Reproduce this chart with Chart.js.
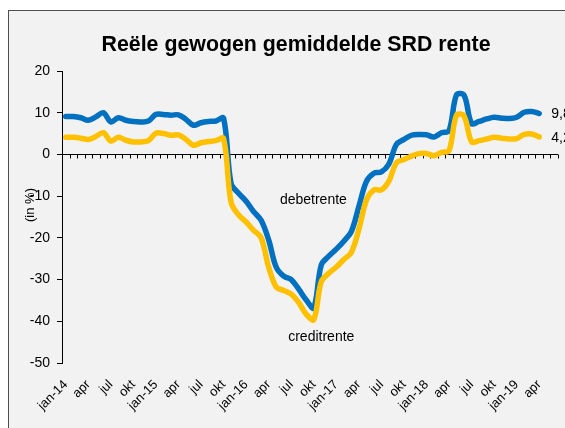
<!DOCTYPE html>
<html>
<head>
<meta charset="utf-8">
<script src="https://cdn.jsdelivr.net/npm/chart.js@4.4.1/dist/chart.umd.min.js"></script>
<style>
html,body{margin:0;padding:0;background:#ffffff;overflow:hidden;}
#wrap{width:565px;height:428px;position:relative;}
canvas{display:block;}
</style>
</head>
<body>
<div id="wrap"><canvas id="c" width="565" height="428"></canvas></div>
<script>
// ---- data ----
const chartTitle = 'Reële gewogen gemiddelde SRD rente';
const yAxisTitle = '(in %)';
const categories = [
  'jan-14','feb','mrt','apr','mei','jun','jul','aug','sep','okt','nov','dec',
  'jan-15','feb','mrt','apr','mei','jun','jul','aug','sep','okt','nov','dec',
  'jan-16','feb','mrt','apr','mei','jun','jul','aug','sep','okt','nov','dec',
  'jan-17','feb','mrt','apr','mei','jun','jul','aug','sep','okt','nov','dec',
  'jan-18','feb','mrt','apr','mei','jun','jul','aug','sep','okt','nov','dec',
  'jan-19','feb','mrt','apr','mei','jun'
];
const debetrente = [
  9.1, 9.1, 8.8, 8.2, 9.0, 10.0, 7.8, 8.8, 8.2, 7.9, 7.8, 8.0,
  9.6, 9.6, 9.4, 9.5, 8.4, 7.0, 7.6, 7.9, 8.0, 8.7, -7.0, -9.3,
  -11.2, -13.7, -15.8, -20.5, -27.0, -29.2, -30.0, -32.3, -34.9, -36.8, -26.5, -24.4,
  -22.7, -20.8, -18.5, -12.5, -6.5, -4.5, -4.2, -2.3, 2.4, 3.6, 4.6, 4.8,
  4.7, 4.2, 5.2, 5.7, 14.3, 14.2, 7.4, 7.9, 8.5, 8.9, 8.7, 8.6,
  8.9, 10.1, 10.3, 9.8
];
const creditrente = [
  4.1, 4.1, 3.9, 3.6, 4.3, 5.2, 3.2, 4.1, 3.4, 3.0, 3.0, 3.3,
  5.1, 5.0, 4.6, 4.7, 3.6, 2.2, 2.8, 3.1, 3.3, 3.8, -11.5, -14.5,
  -16.2, -18.2, -20.0, -27.0, -31.8, -32.6, -33.5, -35.5, -38.3, -39.6, -30.5, -28.5,
  -27.0, -25.2, -23.5, -18.0, -11.0, -8.5, -8.5, -6.4, -2.0, -1.2, -0.4, 0.2,
  0.2, -0.3, 0.5, 0.9, 9.4, 9.2, 3.0, 3.3, 3.7, 4.1, 3.9, 3.7,
  3.8, 4.8, 4.9, 4.2
];
const yMin = -50, yMax = 20, yStep = 10;
const labelEvery = 3;
const seriesNames = ['debetrente', 'creditrente'];

const FONT = "'Liberation Sans', Arial, Helvetica, sans-serif";
const BLUE = '#0070C0';
const YELLOW = '#FFC000';

const decorPlugin = {
  id: 'decor',
  beforeDraw(chart) {
    const ctx = chart.ctx;
    ctx.save();
    ctx.fillStyle = '#ffffff';
    ctx.fillRect(0, 0, chart.width, chart.height);
    ctx.fillStyle = '#f2f2f2';
    ctx.fillRect(8.5, 10.5, chart.width, chart.height);
    ctx.strokeStyle = '#4d4d4d';
    ctx.lineWidth = 1;
    ctx.strokeRect(8.5, 10.5, chart.width + 10, chart.height + 10);
    // title
    ctx.fillStyle = '#000';
    ctx.font = "bold 22px " + FONT;
    ctx.textBaseline = 'alphabetic';
    ctx.textAlign = 'center';
    const w = ctx.measureText(chartTitle).width;
    const target = 389;
    ctx.translate(296, 50.5);
    ctx.scale(target / w, 1);
    ctx.fillText(chartTitle, 0, 0);
    ctx.restore();
    // y axis title
    ctx.save();
    ctx.fillStyle = '#000';
    ctx.font = "13px " + FONT;
    ctx.textAlign = 'center';
    ctx.textBaseline = 'middle';
    ctx.translate(30, 205);
    ctx.rotate(-Math.PI / 2);
    ctx.fillText(yAxisTitle, 0, 0);
    ctx.restore();
  },
  beforeDatasetsDraw(chart) {
    const ctx = chart.ctx;
    const ys = chart.scales.y;
    const y0 = Math.round(ys.getPixelForValue(0)) + 0.5;
    const a = chart.chartArea;
    ctx.save();
    ctx.strokeStyle = '#000';
    ctx.lineWidth = 1;
    ctx.beginPath();
    ctx.moveTo(a.left - 5, y0);
    ctx.lineTo(a.right, y0);
    const n = categories.length;
    const cw = (a.right - a.left) / n;
    for (let i = 1; i <= n; i++) {
      const x = Math.round(a.left + i * cw) + 0.5;
      ctx.moveTo(x, y0);
      ctx.lineTo(x, y0 + 4);
    }
    ctx.stroke();
    ctx.restore();
  },
  afterDatasetsDraw(chart) {
    const ctx = chart.ctx;
    const xs = chart.scales.x, ys = chart.scales.y;
    ctx.save();
    ctx.fillStyle = '#000';
    ctx.font = "14px " + FONT;
    ctx.textBaseline = 'middle';
    ctx.textAlign = 'center';
    ctx.fillText(seriesNames[0], xs.getPixelForValue(32.95), ys.getPixelForValue(-10.9));
    ctx.fillText(seriesNames[1], xs.getPixelForValue(34.0), ys.getPixelForValue(-43.9));
    ctx.textAlign = 'left';
    const li = debetrente.length - 1;
    const fmt = v => v.toFixed(1).replace('.', ',');
    ctx.fillText(fmt(debetrente[li]), xs.getPixelForValue(li) + 12, ys.getPixelForValue(debetrente[li]) + 1);
    ctx.fillText(fmt(creditrente[li]), xs.getPixelForValue(li) + 12, ys.getPixelForValue(creditrente[li]) + 1);
    ctx.restore();
  }
};

new Chart(document.getElementById('c'), {
  type: 'line',
  data: {
    labels: categories,
    datasets: [
      { label: seriesNames[1], data: creditrente, borderColor: YELLOW, backgroundColor: YELLOW,
        borderWidth: 5.5, pointRadius: 0, tension: 0.35, fill: false,
        borderCapStyle: 'round', borderJoinStyle: 'round' },
      { label: seriesNames[0], data: debetrente, borderColor: BLUE, backgroundColor: BLUE,
        borderWidth: 5.5, pointRadius: 0, tension: 0.35, fill: false,
        borderCapStyle: 'round', borderJoinStyle: 'round' }
    ]
  },
  options: {
    responsive: false,
    animation: false,
    devicePixelRatio: 1,
    layout: { padding: { left: 0, right: 7, top: 71, bottom: 0 } },
    plugins: { legend: { display: false }, tooltip: { enabled: false }, title: { display: false } },
    scales: {
      x: {
        type: 'category',
        offset: true,
        grid: { display: false, drawTicks: false },
        border: { display: false },
        ticks: {
          autoSkip: false, maxRotation: 45, minRotation: 45, padding: 14,
          color: '#000', font: { family: FONT, size: 13 },
          callback: (v, i) => (i % labelEvery === 0 ? categories[i] : '')
        },
        afterFit: s => { s.height = 65; s.paddingLeft = 0; s.paddingRight = 0; }
      },
      y: {
        min: yMin, max: yMax,
        ticks: { stepSize: yStep, color: '#000', font: { family: FONT, size: 14 }, padding: 7 },
        grid: { drawOnChartArea: false, color: '#000', tickColor: '#000', tickLength: 5 },
        border: { color: '#000', width: 1 },
        afterFit: s => { s.width = 62; s.paddingTop = 0; s.paddingBottom = 0; }
      }
    }
  },
  plugins: [decorPlugin]
});
</script>
</body>
</html>
